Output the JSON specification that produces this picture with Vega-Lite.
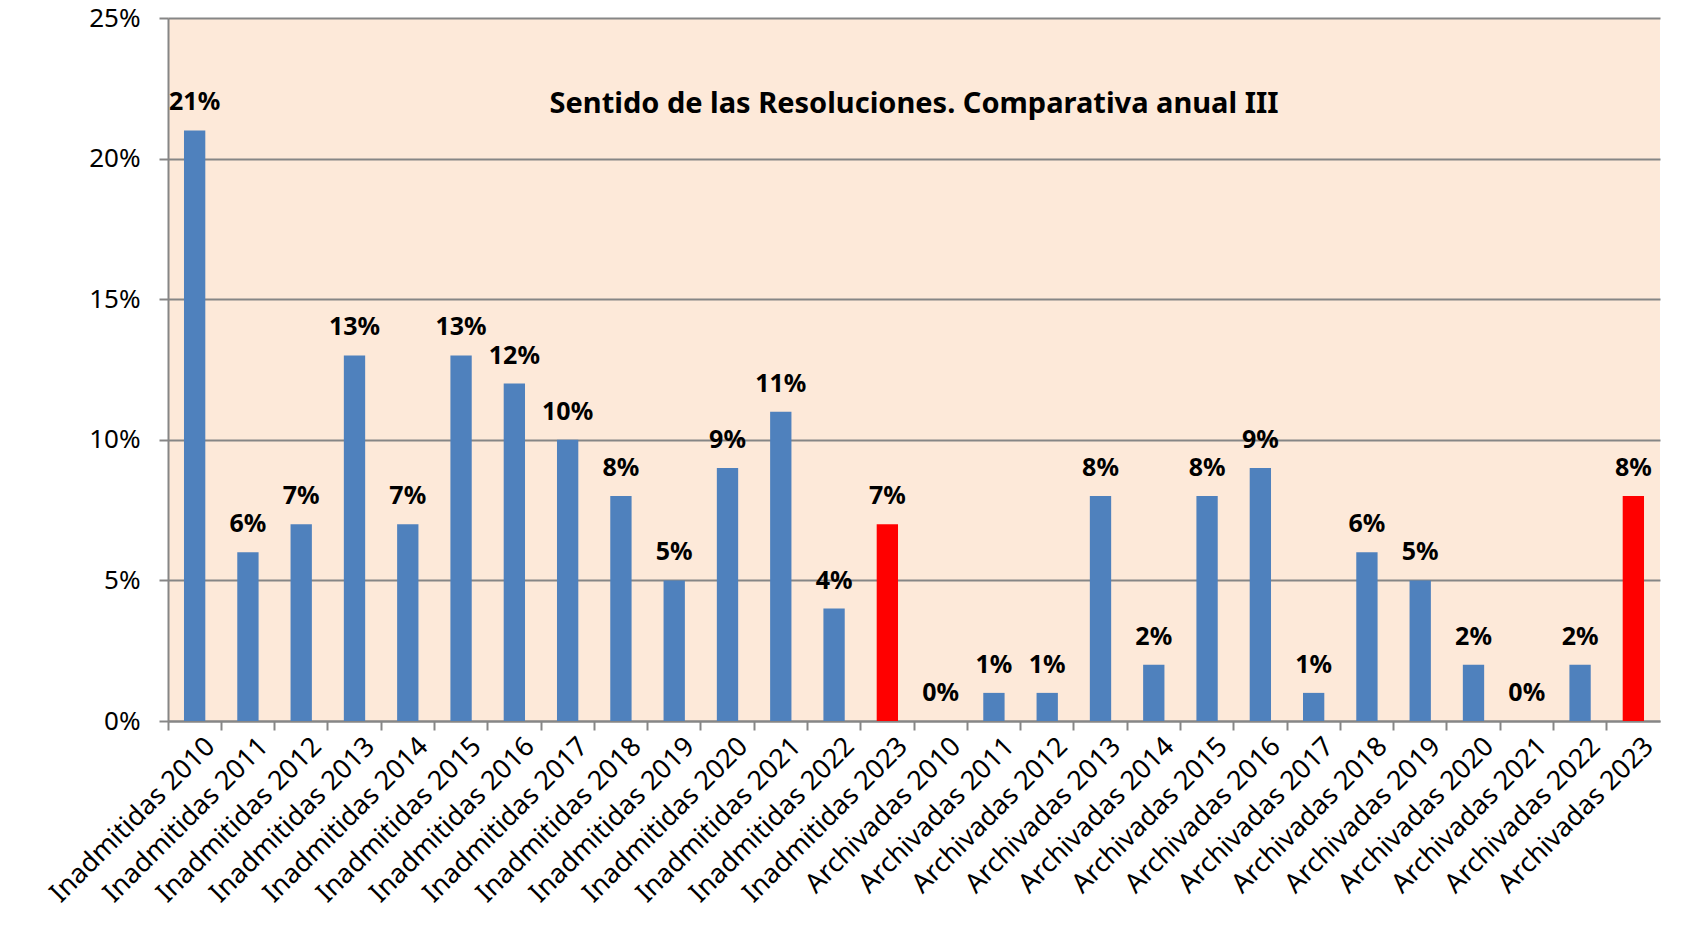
{
  "$schema": "https://vega.github.io/schema/vega-lite/v6.json",
  "width": 1492,
  "height": 703,
  "autosize": {"type": "none"},
  "padding": {"left": 168, "top": 18, "right": 26, "bottom": 207},
  "background": "#ffffff",
  "config": {
    "font": "Noto Sans",
    "view": {"stroke": null, "fill": "#FDE9D9"}
  },
  "title": {
    "text": "Sentido de las Resoluciones. Comparativa anual III",
    "font": "Noto Sans",
    "fontSize": 29,
    "fontWeight": "bold",
    "color": "#000000",
    "anchor": "middle",
    "frame": "group",
    "offset": -114
  },
  "data": {
    "values": [
      {"cat": "Inadmitidas 2010", "v": 0.21},
      {"cat": "Inadmitidas 2011", "v": 0.06},
      {"cat": "Inadmitidas 2012", "v": 0.07},
      {"cat": "Inadmitidas 2013", "v": 0.13},
      {"cat": "Inadmitidas 2014", "v": 0.07},
      {"cat": "Inadmitidas 2015", "v": 0.13},
      {"cat": "Inadmitidas 2016", "v": 0.12},
      {"cat": "Inadmitidas 2017", "v": 0.10},
      {"cat": "Inadmitidas 2018", "v": 0.08},
      {"cat": "Inadmitidas 2019", "v": 0.05},
      {"cat": "Inadmitidas 2020", "v": 0.09},
      {"cat": "Inadmitidas 2021", "v": 0.11},
      {"cat": "Inadmitidas 2022", "v": 0.04},
      {"cat": "Inadmitidas 2023", "v": 0.07},
      {"cat": " ", "v": null},
      {"cat": "Archivadas 2010", "v": 0.0},
      {"cat": "Archivadas 2011", "v": 0.01},
      {"cat": "Archivadas 2012", "v": 0.01},
      {"cat": "Archivadas 2013", "v": 0.08},
      {"cat": "Archivadas 2014", "v": 0.02},
      {"cat": "Archivadas 2015", "v": 0.08},
      {"cat": "Archivadas 2016", "v": 0.09},
      {"cat": "Archivadas 2017", "v": 0.01},
      {"cat": "Archivadas 2018", "v": 0.06},
      {"cat": "Archivadas 2019", "v": 0.05},
      {"cat": "Archivadas 2020", "v": 0.02},
      {"cat": "Archivadas 2021", "v": 0.0},
      {"cat": "Archivadas 2022", "v": 0.02},
      {"cat": "Archivadas 2023", "v": 0.08}
    ]
  },
  "encoding": {
    "x": {
      "field": "cat",
      "type": "nominal",
      "sort": null,
      "scale": {"paddingInner": 0.6, "paddingOuter": 0.3},
      "axis": {
        "title": null,
        "bandPosition": -0.75,
        "labelAngle": -45,
        "labelAlign": "right",
        "labelBaseline": "middle",
        "labelFont": "Noto Sans",
        "labelFontSize": 27,
        "labelColor": "#000000",
        "labelPadding": 12,
        "labelOffset": 16,
        "labelOverlap": false,
        "labelBound": false,
        "labelLimit": 0,
        "tickSize": 9,
        "tickColor": "#868686",
        "tickWidth": 2,
        "domainColor": "#868686",
        "domainWidth": 2,
        "grid": false
      }
    },
    "y": {
      "field": "v",
      "type": "quantitative",
      "scale": {"domain": [0, 0.25], "nice": false},
      "axis": {
        "title": null,
        "format": ".0%",
        "values": [0, 0.05, 0.1, 0.15, 0.2, 0.25],
        "labelFont": "Noto Sans",
        "labelFontSize": 26,
        "labelColor": "#000000",
        "labelPadding": 19,
        "tickSize": 9,
        "tickColor": "#868686",
        "tickWidth": 2,
        "domainColor": "#868686",
        "domainWidth": 2,
        "grid": true,
        "gridColor": "#868686",
        "gridWidth": 2
      }
    }
  },
  "layer": [
    {
      "mark": {"type": "bar"},
      "encoding": {
        "color": {
          "condition": {"test": "indexof(datum.cat, '2023') >= 0", "value": "#FF0000"},
          "value": "#4F81BD"
        }
      }
    },
    {
      "transform": [{"filter": "isValid(datum.v)"}],
      "mark": {
        "type": "text",
        "baseline": "alphabetic",
        "dy": -20,
        "font": "Noto Sans",
        "fontSize": 25,
        "fontWeight": "bold",
        "color": "#000000"
      },
      "encoding": {
        "text": {"field": "v", "type": "quantitative", "format": ".0%"}
      }
    }
  ]
}
